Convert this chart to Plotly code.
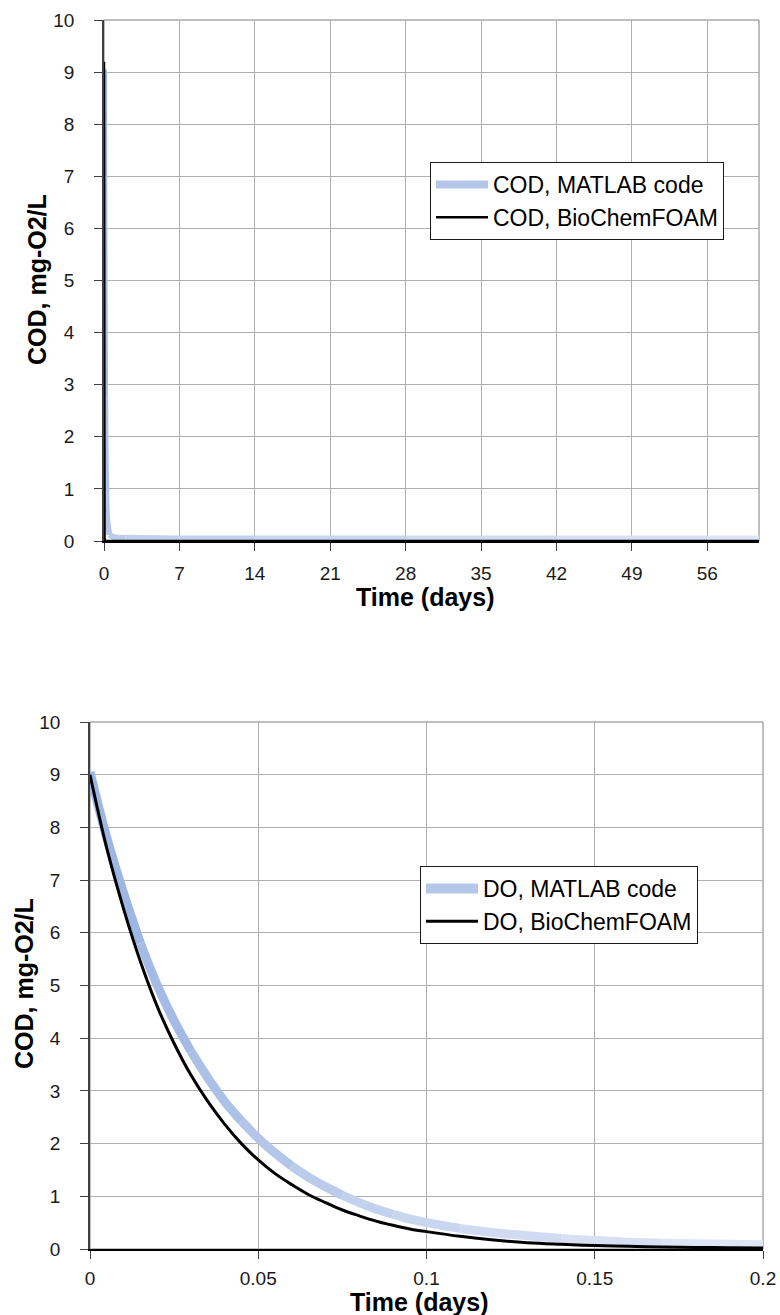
import plotly.graph_objects as go

# ---- Data ----
t_top = [0, 0.01, 0.02, 0.05, 0.1, 0.15, 0.2, 0.3, 0.5, 1, 2, 7, 14, 21, 28, 35, 42, 49, 56, 60.8]
cod_matlab = [9.05, 8.0, 7.0, 5.0, 2.8, 1.6, 1.0, 0.4, 0.12, 0.07, 0.06, 0.05, 0.05, 0.05, 0.05, 0.05, 0.05, 0.05, 0.05, 0.05]
cod_foam = [9.2, 4.0, 1.2, 0.05, 0.01, 0.0, 0.0, 0.0, 0.0, 0.0, 0.0, 0.0, 0.0, 0.0, 0.0, 0.0, 0.0, 0.0, 0.0, 0.0]

t_bot = [0, 0.005, 0.01, 0.015, 0.02, 0.025, 0.03, 0.035, 0.04, 0.045, 0.05, 0.055, 0.06, 0.065, 0.07,
         0.075, 0.08, 0.085, 0.09, 0.095, 0.1, 0.11, 0.12, 0.13, 0.14, 0.15, 0.16, 0.17, 0.18, 0.19, 0.2]
do_matlab = [9.05, 7.8, 6.75, 5.8, 5.0, 4.33, 3.75, 3.25, 2.8, 2.43, 2.1, 1.82, 1.57, 1.36, 1.18,
             1.02, 0.88, 0.76, 0.66, 0.57, 0.5, 0.39, 0.31, 0.25, 0.2, 0.16, 0.13, 0.11, 0.1, 0.09, 0.08]
do_foam = [9.0, 7.6, 6.45, 5.45, 4.6, 3.9, 3.3, 2.8, 2.37, 2.0, 1.69, 1.43, 1.22, 1.03, 0.88,
           0.74, 0.63, 0.53, 0.45, 0.38, 0.33, 0.24, 0.17, 0.12, 0.09, 0.065, 0.05, 0.04, 0.03, 0.025, 0.02]

top_xticks = [0, 7, 14, 21, 28, 35, 42, 49, 56]
bot_xticks = [0, 0.05, 0.1, 0.15, 0.2]
bot_xlabels = ["0", "0.05", "0.1", "0.15", "0.2"]
yticks = list(range(0, 11))

W, H = 780, 1315
FONT = "Liberation Sans"
BLUE_START = (158, 182, 228)
BLUE_END = (222, 230, 245)
LEGEND_BLUE = "#b4c7e9"


def mix(f):
    c = [round(a + (b - a) * f) for a, b in zip(BLUE_START, BLUE_END)]
    return "rgb({},{},{})".format(*c)


fig = go.Figure()


def add_gradient_line(xs, ys, name, width, xa, ya, lg, seg=3):
    n = len(xs)
    starts = list(range(0, n - 1, seg))
    for k, s in enumerate(starts):
        e = min(s + seg, n - 1)
        f = k / max(1, len(starts) - 1)
        fig.add_trace(go.Scatter(x=xs[s:e + 1], y=ys[s:e + 1], mode="lines", name=name,
                                 line=dict(color=mix(f), width=width, shape="spline"),
                                 xaxis=xa, yaxis=ya, legend=lg, legendgroup=name,
                                 showlegend=False, hoverinfo="skip"))
    # legend entry (no data points)
    fig.add_trace(go.Scatter(x=[None], y=[None], mode="lines", name=name,
                             line=dict(color=LEGEND_BLUE, width=width + 2),
                             xaxis=xa, yaxis=ya, legend=lg, legendgroup=name))


add_gradient_line(t_top, cod_matlab, "COD, MATLAB code", 6, "x", "y", "legend", seg=2)
fig.add_trace(go.Scatter(x=t_top, y=cod_foam, mode="lines", name="COD, BioChemFOAM",
                         line=dict(color="black", width=2.5), xaxis="x", yaxis="y", legend="legend"))
add_gradient_line(t_bot, do_matlab, "DO, MATLAB code", 9, "x2", "y2", "legend2", seg=3)
fig.add_trace(go.Scatter(x=t_bot, y=do_foam, mode="lines", name="DO, BioChemFOAM",
                         line=dict(color="black", width=3, shape="spline"), xaxis="x2", yaxis="y2",
                         legend="legend2"))


def px_x(a, b):
    return [a / W, b / W]


def px_y(top, bottom):
    return [1 - bottom / H, 1 - top / H]


axis_common = dict(showgrid=True, gridcolor="#b0b0b0", gridwidth=1, zeroline=False,
                   ticks="outside", ticklen=8, tickcolor="#404040", automargin=False,
                   tickfont=dict(family=FONT, size=19, color="#1a1a1a"))

title_font = dict(family=FONT, size=25, color="black", weight="bold")
legend_font = dict(family=FONT, size=23, color="black")

fig.update_layout(
    width=W, height=H,
    margin=dict(l=0, r=0, t=0, b=0, autoexpand=False),
    paper_bgcolor="white", plot_bgcolor="white",
    xaxis=dict(domain=px_x(104, 759), range=[0, 60.8], tickvals=top_xticks, anchor="y",
               showline=True, linecolor="black", linewidth=2, ticklabelstandoff=6, **axis_common),
    yaxis=dict(domain=px_y(20, 541), range=[0, 10], tickvals=yticks, anchor="x",
               showline=True, linecolor="#404040", linewidth=1.5, ticklabelstandoff=16, **axis_common),
    xaxis2=dict(domain=px_x(90, 763), range=[0, 0.2], tickvals=bot_xticks, ticktext=bot_xlabels,
                anchor="y2", showline=True, linecolor="black", linewidth=2, ticklabelstandoff=3,
                **axis_common),
    yaxis2=dict(domain=px_y(722, 1249), range=[0, 10], tickvals=yticks, anchor="x2",
                showline=True, linecolor="#404040", linewidth=1.5, ticklabelstandoff=16, **axis_common),
    legend=dict(x=430 / W, y=1 - 162 / H, xanchor="left", yanchor="top",
                bgcolor="white", bordercolor="#1a1a1a", borderwidth=1,
                font=legend_font, itemwidth=52, tracegroupgap=0),
    legend2=dict(x=420 / W, y=1 - 866 / H, xanchor="left", yanchor="top",
                 bgcolor="white", bordercolor="#1a1a1a", borderwidth=1,
                 font=legend_font, itemwidth=52, tracegroupgap=0),
    showlegend=True,
)

# axis titles
titles = [
    ("Time (days)", 425 / W, 1 - 597 / H, 0),
    ("COD, mg-O2/L", 37 / W, 1 - 280 / H, -90),
    ("Time (days)", 419 / W, 1 - 1302 / H, 0),
    ("COD, mg-O2/L", 24 / W, 1 - 984 / H, -90),
]
for text, ax, ay, ang in titles:
    fig.add_annotation(text=text, x=ax, y=ay, xref="paper", yref="paper", showarrow=False,
                       xanchor="center", yanchor="middle", textangle=ang, font=title_font)

# plot-area borders (top/right)
for xr, yr in (("x domain", "y domain"), ("x2 domain", "y2 domain")):
    fig.add_shape(type="rect", xref=xr, yref=yr, x0=0, x1=1, y0=0, y1=1,
                  line=dict(color="#7f7f7f", width=1), layer="below")

fig.write_html("out.html")
